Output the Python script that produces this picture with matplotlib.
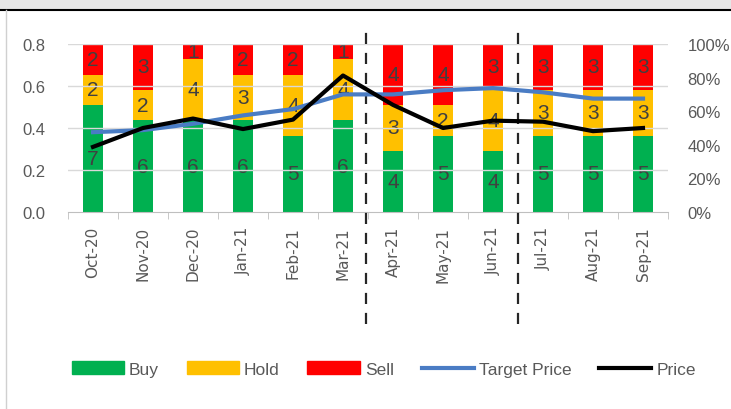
import matplotlib.pyplot as plt
from matplotlib.patches import Patch, Rectangle
from matplotlib.lines import Line2D
from matplotlib.ticker import PercentFormatter, FixedLocator
import numpy as np

months = ['Oct-20', 'Nov-20', 'Dec-20', 'Jan-21', 'Feb-21', 'Mar-21',
          'Apr-21', 'May-21', 'Jun-21', 'Jul-21', 'Aug-21', 'Sep-21']
buy = [7, 6, 6, 6, 5, 6, 4, 5, 4, 5, 5, 5]
hold = [2, 2, 4, 3, 4, 4, 3, 2, 4, 3, 3, 3]
sell = [2, 3, 1, 2, 2, 1, 4, 4, 3, 3, 3, 3]
target_price = [0.38, 0.39, 0.42, 0.46, 0.49, 0.56, 0.56, 0.58, 0.59, 0.57, 0.54, 0.54]
price = [0.31, 0.40, 0.445, 0.395, 0.44, 0.65, 0.51, 0.40, 0.435, 0.43, 0.385, 0.40]

plt.rcParams['font.family'] = ['Liberation Sans', 'DejaVu Sans']

green, yellow, red = '#00B050', '#FFC000', '#FF0000'
blue = '#4A7CC4'
grey_txt = '#595959'

fig = plt.figure(figsize=(7.31, 4.10), dpi=100)
# frame decoration of the screenshot
fig.patches.append(Rectangle((0, 1 - 10 / 410), 1, 10 / 410, transform=fig.transFigure,
                             color='#E6E6E6', zorder=0))
fig.add_artist(Line2D([0, 1], [1 - 11 / 410] * 2, transform=fig.transFigure, color='black', lw=1.5))
fig.add_artist(Line2D([6 / 731] * 2, [0, 1 - 11 / 410], transform=fig.transFigure, color='#D0D0D0', lw=1))

ax = fig.add_axes([68 / 731, 1 - 213 / 410, 600 / 731, 168 / 410])
ax2 = ax.twinx()

x = np.arange(len(months))
buy = np.array(buy)
hold = np.array(hold)
sell = np.array(sell)
total = buy + hold + sell
w = 0.4
pb, ph, ps = buy / total, hold / total, sell / total
ax.bar(x, pb, w, color=green, zorder=2)
ax.bar(x, ph, w, bottom=pb, color=yellow, zorder=2)
ax.bar(x, ps, w, bottom=pb + ph, color=red, zorder=2)

for i in x:
    for val, frac, bot in [(buy[i], pb[i], 0), (hold[i], ph[i], pb[i]), (sell[i], ps[i], pb[i] + ph[i])]:
        ax.text(i, bot + frac / 2, str(val), ha='center', va='center', fontsize=15,
                color='#404040', zorder=3)

ax.set_ylim(0, 1)
ax.set_xlim(-0.5, len(months) - 0.5)
ax.yaxis.tick_right()
ax.yaxis.set_major_locator(FixedLocator(np.arange(0, 1.01, 0.2)))
ax.yaxis.set_major_formatter(PercentFormatter(1.0, decimals=0))
ax.tick_params(axis='y', length=0, labelsize=12, labelcolor=grey_txt, pad=14)

ax.set_xticks(x)
ax.set_xticklabels(months, rotation=90, fontsize=11, color=grey_txt, family=['DejaVu Sans'])
ax.set_xticks(np.arange(-0.5, len(months), 1), minor=True)
ax.tick_params(axis='x', which='major', length=0, pad=10)
ax.tick_params(axis='x', which='minor', length=5, color='#BFBFBF')
for s in ['top', 'left', 'right']:
    ax.spines[s].set_visible(False)
ax.spines['bottom'].set_color('#BFBFBF')

ax2.plot(x, target_price, color=blue, lw=3, zorder=4)
ax2.plot(x, price, color='black', lw=3, zorder=5)
ax2.set_ylim(0, 0.8)
ax2.yaxis.tick_left()
ax2.set_yticks(np.arange(0, 0.81, 0.2))
ax2.set_yticklabels([f'{v:.1f}' for v in np.arange(0, 0.81, 0.2)])
ax2.tick_params(axis='y', length=0, labelsize=12, labelcolor=grey_txt, pad=16)
for s in ['top', 'left', 'right', 'bottom']:
    ax2.spines[s].set_visible(False)
ax.set_zorder(1)
ax2.set_zorder(2)
ax2.patch.set_visible(False)
for yv in np.arange(0.2, 0.81, 0.2):
    ax2.axhline(yv, color='#D9D9D9', lw=1, zorder=0)
ax.patch.set_visible(False)

# dashed period separators across the plot and labels
for xd in [5.45, 8.5]:
    xf = fig.transFigure.inverted().transform(ax.transData.transform((xd, 0)))[0]
    fig.add_artist(Line2D([xf, xf], [1 - 325 / 410, 1 - 26 / 410], transform=fig.transFigure,
                          color='#262626', lw=1.6, ls=(0, (5, 4))))

handles = [Patch(color=green), Patch(color=yellow), Patch(color=red),
           Line2D([], [], color=blue, lw=3), Line2D([], [], color='black', lw=3)]
fig.legend(handles, ['Buy', 'Hold', 'Sell', 'Target Price', 'Price'], loc='center',
           bbox_to_anchor=(0.525, 1 - 370 / 410), ncol=5, frameon=False, fontsize=12.5,
           handlelength=3.0, handleheight=0.8, handletextpad=0.3, columnspacing=1.6,
           labelcolor=grey_txt)

fig.savefig('out.png', dpi=100)
